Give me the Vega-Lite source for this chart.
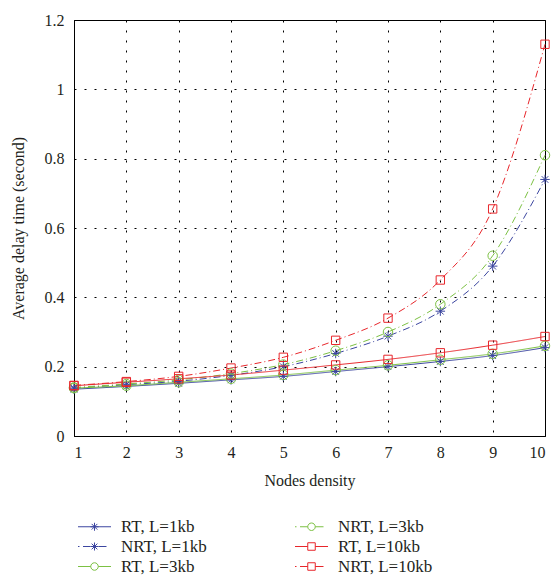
{
  "$schema": "https://vega.github.io/schema/vega-lite/v6.json",
  "width": 471,
  "height": 416,
  "autosize": {"type": "none"},
  "padding": {"left": 74, "top": 20, "right": 12, "bottom": 145},
  "background": "white",
  "config": {
    "view": {"stroke": "black", "strokeWidth": 1},
    "font": "Liberation Serif",
    "axis": {
      "domainColor": "black",
      "grid": true,
      "gridColor": "black",
      "gridOpacity": 1,
      "gridDash": [2, 8],
      "gridWidth": 1,
      "ticks": false,
      "labelFont": "Liberation Serif",
      "labelFontSize": 16,
      "labelColor": "#231f20",
      "titleFont": "Liberation Serif",
      "titleFontSize": 16,
      "titleFontWeight": "normal",
      "titleColor": "#231f20"
    },
    "legend": {
      "labelFont": "Liberation Serif",
      "labelFontSize": 17,
      "labelColor": "#231f20"
    }
  },
  "data": {
    "values": [
      {"x": 1, "series": "RT, L=1kb", "kind": "RT", "load": "1kb", "y": 0.135},
      {"x": 2, "series": "RT, L=1kb", "kind": "RT", "load": "1kb", "y": 0.143},
      {"x": 3, "series": "RT, L=1kb", "kind": "RT", "load": "1kb", "y": 0.152},
      {"x": 4, "series": "RT, L=1kb", "kind": "RT", "load": "1kb", "y": 0.162},
      {"x": 5, "series": "RT, L=1kb", "kind": "RT", "load": "1kb", "y": 0.172},
      {"x": 6, "series": "RT, L=1kb", "kind": "RT", "load": "1kb", "y": 0.186},
      {"x": 7, "series": "RT, L=1kb", "kind": "RT", "load": "1kb", "y": 0.2},
      {"x": 8, "series": "RT, L=1kb", "kind": "RT", "load": "1kb", "y": 0.215},
      {"x": 9, "series": "RT, L=1kb", "kind": "RT", "load": "1kb", "y": 0.232},
      {"x": 10, "series": "RT, L=1kb", "kind": "RT", "load": "1kb", "y": 0.255},
      {"x": 1, "series": "NRT, L=1kb", "kind": "NRT", "load": "1kb", "y": 0.138},
      {"x": 2, "series": "NRT, L=1kb", "kind": "NRT", "load": "1kb", "y": 0.148},
      {"x": 3, "series": "NRT, L=1kb", "kind": "NRT", "load": "1kb", "y": 0.158},
      {"x": 4, "series": "NRT, L=1kb", "kind": "NRT", "load": "1kb", "y": 0.175},
      {"x": 5, "series": "NRT, L=1kb", "kind": "NRT", "load": "1kb", "y": 0.2},
      {"x": 6, "series": "NRT, L=1kb", "kind": "NRT", "load": "1kb", "y": 0.238},
      {"x": 7, "series": "NRT, L=1kb", "kind": "NRT", "load": "1kb", "y": 0.288},
      {"x": 8, "series": "NRT, L=1kb", "kind": "NRT", "load": "1kb", "y": 0.36},
      {"x": 9, "series": "NRT, L=1kb", "kind": "NRT", "load": "1kb", "y": 0.49},
      {"x": 10, "series": "NRT, L=1kb", "kind": "NRT", "load": "1kb", "y": 0.74},
      {"x": 1, "series": "RT, L=3kb", "kind": "RT", "load": "3kb", "y": 0.138},
      {"x": 2, "series": "RT, L=3kb", "kind": "RT", "load": "3kb", "y": 0.145},
      {"x": 3, "series": "RT, L=3kb", "kind": "RT", "load": "3kb", "y": 0.155},
      {"x": 4, "series": "RT, L=3kb", "kind": "RT", "load": "3kb", "y": 0.165},
      {"x": 5, "series": "RT, L=3kb", "kind": "RT", "load": "3kb", "y": 0.176},
      {"x": 6, "series": "RT, L=3kb", "kind": "RT", "load": "3kb", "y": 0.19},
      {"x": 7, "series": "RT, L=3kb", "kind": "RT", "load": "3kb", "y": 0.204},
      {"x": 8, "series": "RT, L=3kb", "kind": "RT", "load": "3kb", "y": 0.22},
      {"x": 9, "series": "RT, L=3kb", "kind": "RT", "load": "3kb", "y": 0.237},
      {"x": 10, "series": "RT, L=3kb", "kind": "RT", "load": "3kb", "y": 0.26},
      {"x": 1, "series": "NRT, L=3kb", "kind": "NRT", "load": "3kb", "y": 0.14},
      {"x": 2, "series": "NRT, L=3kb", "kind": "NRT", "load": "3kb", "y": 0.15},
      {"x": 3, "series": "NRT, L=3kb", "kind": "NRT", "load": "3kb", "y": 0.162},
      {"x": 4, "series": "NRT, L=3kb", "kind": "NRT", "load": "3kb", "y": 0.18},
      {"x": 5, "series": "NRT, L=3kb", "kind": "NRT", "load": "3kb", "y": 0.206},
      {"x": 6, "series": "NRT, L=3kb", "kind": "NRT", "load": "3kb", "y": 0.246},
      {"x": 7, "series": "NRT, L=3kb", "kind": "NRT", "load": "3kb", "y": 0.3},
      {"x": 8, "series": "NRT, L=3kb", "kind": "NRT", "load": "3kb", "y": 0.38},
      {"x": 9, "series": "NRT, L=3kb", "kind": "NRT", "load": "3kb", "y": 0.52},
      {"x": 10, "series": "NRT, L=3kb", "kind": "NRT", "load": "3kb", "y": 0.81},
      {"x": 1, "series": "RT, L=10kb", "kind": "RT", "load": "10kb", "y": 0.145},
      {"x": 2, "series": "RT, L=10kb", "kind": "RT", "load": "10kb", "y": 0.155},
      {"x": 3, "series": "RT, L=10kb", "kind": "RT", "load": "10kb", "y": 0.165},
      {"x": 4, "series": "RT, L=10kb", "kind": "RT", "load": "10kb", "y": 0.176},
      {"x": 5, "series": "RT, L=10kb", "kind": "RT", "load": "10kb", "y": 0.19},
      {"x": 6, "series": "RT, L=10kb", "kind": "RT", "load": "10kb", "y": 0.205},
      {"x": 7, "series": "RT, L=10kb", "kind": "RT", "load": "10kb", "y": 0.221},
      {"x": 8, "series": "RT, L=10kb", "kind": "RT", "load": "10kb", "y": 0.24},
      {"x": 9, "series": "RT, L=10kb", "kind": "RT", "load": "10kb", "y": 0.262},
      {"x": 10, "series": "RT, L=10kb", "kind": "RT", "load": "10kb", "y": 0.287},
      {"x": 1, "series": "NRT, L=10kb", "kind": "NRT", "load": "10kb", "y": 0.146},
      {"x": 2, "series": "NRT, L=10kb", "kind": "NRT", "load": "10kb", "y": 0.157},
      {"x": 3, "series": "NRT, L=10kb", "kind": "NRT", "load": "10kb", "y": 0.172},
      {"x": 4, "series": "NRT, L=10kb", "kind": "NRT", "load": "10kb", "y": 0.196},
      {"x": 5, "series": "NRT, L=10kb", "kind": "NRT", "load": "10kb", "y": 0.227},
      {"x": 6, "series": "NRT, L=10kb", "kind": "NRT", "load": "10kb", "y": 0.276},
      {"x": 7, "series": "NRT, L=10kb", "kind": "NRT", "load": "10kb", "y": 0.34},
      {"x": 8, "series": "NRT, L=10kb", "kind": "NRT", "load": "10kb", "y": 0.45},
      {"x": 9, "series": "NRT, L=10kb", "kind": "NRT", "load": "10kb", "y": 0.655},
      {"x": 10, "series": "NRT, L=10kb", "kind": "NRT", "load": "10kb", "y": 1.13}
    ]
  },
  "encoding": {
    "x": {
      "field": "x",
      "type": "quantitative",
      "scale": {"domain": [1, 10], "nice": false, "zero": false},
      "axis": {"values": [1, 2, 3, 4, 5, 6, 7, 8, 9, 10], "title": "Nodes density", "labelPadding": 8, "titlePadding": 12}
    },
    "y": {
      "field": "y",
      "type": "quantitative",
      "scale": {"domain": [0, 1.2], "nice": false},
      "axis": {"values": [0, 0.2, 0.4, 0.6, 0.8, 1, 1.2], "format": "~g", "title": "Average delay time (second)", "labelPadding": 10, "titlePadding": 18}
    }
  },
  "layer": [
    {
      "mark": {"type": "point", "filled": false, "strokeWidth": 1, "opacity": 0},
      "encoding": {
        "color": {
          "field": "series",
          "type": "nominal",
          "scale": {
            "domain": ["RT, L=1kb", "NRT, L=1kb", "RT, L=3kb", "NRT, L=3kb", "RT, L=10kb", "NRT, L=10kb"],
            "range": ["#3c46a0", "#3c46a0", "#7cc143", "#7cc143", "#e8262b", "#e8262b"]
          },
          "legend": {
            "orient": "none",
            "legendX": 0,
            "legendY": 498,
            "columns": 2,
            "title": null,
            "symbolSize": 100,
            "symbolStrokeWidth": 1,
            "symbolOpacity": 1,
            "labelOffset": 30,
            "columnPadding": 84,
            "rowPadding": 2
          }
        },
        "shape": {
          "field": "series",
          "type": "nominal",
          "scale": {
            "domain": ["RT, L=1kb", "NRT, L=1kb", "RT, L=3kb", "NRT, L=3kb", "RT, L=10kb", "NRT, L=10kb"],
            "range": [
              "M-0.9,0H5.7M1.6,0H3.2M2.4,-0.8V0.8M1.83,-0.57L2.97,0.57M1.83,0.57L2.97,-0.57",
              "M-0.9,0H-0.6M0.1,0H1.6M3.2,0H4.8M1.6,0H3.2M2.4,-0.8V0.8M1.83,-0.57L2.97,0.57M1.83,0.57L2.97,-0.57",
              "M-0.9,0H1.65M3.15,0H5.7M1.65,0A0.75,0.75 0 1,0 3.15,0A0.75,0.75 0 1,0 1.65,0Z",
              "M-0.9,0H-0.6M0.1,0H1.65M3.15,0H4.8M1.65,0A0.75,0.75 0 1,0 3.15,0A0.75,0.75 0 1,0 1.65,0Z",
              "M-0.9,0H1.65M3.15,0H5.7M1.65,-0.75H3.15V0.75H1.65Z",
              "M-0.9,0H-0.6M0.1,0H1.65M3.15,0H4.8M1.65,-0.75H3.15V0.75H1.65Z"
            ]
          },
          "legend": {
            "orient": "none",
            "legendX": 0,
            "legendY": 498,
            "columns": 2,
            "title": null,
            "symbolSize": 100,
            "symbolStrokeWidth": 1,
            "symbolOpacity": 1,
            "labelOffset": 30,
            "columnPadding": 84,
            "rowPadding": 2
          }
        }
      }
    },
    {
      "mark": {"type": "line", "interpolate": "monotone", "strokeWidth": 1},
      "encoding": {
        "color": {"field": "series", "type": "nominal", "legend": null},
        "strokeDash": {
          "field": "kind",
          "type": "nominal",
          "scale": {"domain": ["RT", "NRT"], "range": [[1, 0], [7, 3, 1, 3]]},
          "legend": null
        },
        "detail": {"field": "series"}
      }
    },
    {
      "transform": [{"filter": "datum.load == '1kb'"}],
      "mark": {"type": "point", "shape": "M-1,0H1M0,-1V1M-0.7,-0.7L0.7,0.7M-0.7,0.7L0.7,-0.7", "size": 90, "strokeWidth": 1, "filled": false, "opacity": 1},
      "encoding": {"color": {"field": "series", "type": "nominal", "legend": null}}
    },
    {
      "transform": [{"filter": "datum.load == '3kb'"}],
      "mark": {"type": "point", "shape": "circle", "size": 90, "strokeWidth": 1, "filled": false, "opacity": 1},
      "encoding": {"color": {"field": "series", "type": "nominal", "legend": null}}
    },
    {
      "transform": [{"filter": "datum.load == '10kb'"}],
      "mark": {"type": "point", "shape": "square", "size": 70, "strokeWidth": 1, "filled": false, "opacity": 1},
      "encoding": {"color": {"field": "series", "type": "nominal", "legend": null}}
    }
  ]
}
